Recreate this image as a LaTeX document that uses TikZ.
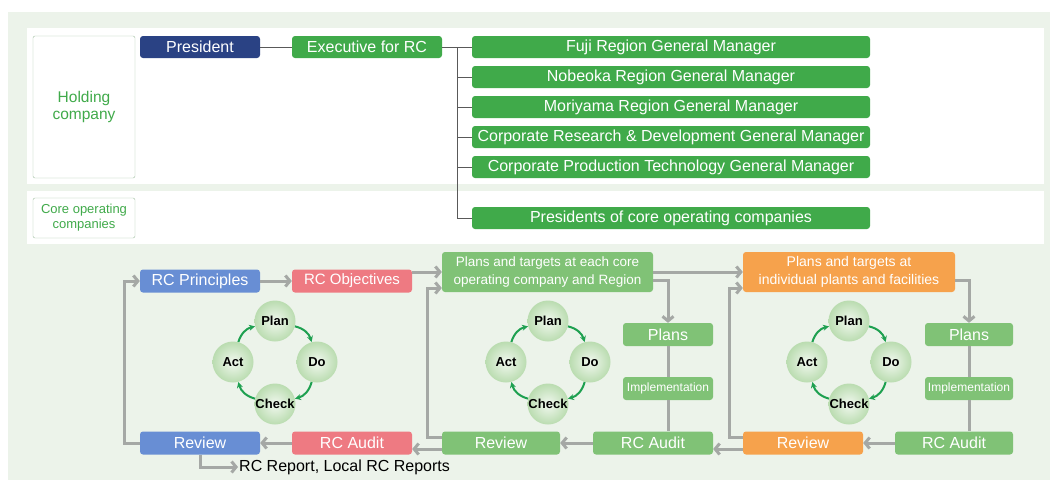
\documentclass[tikz,border=0pt]{standalone}
\usepackage{fontspec}
\setmainfont{Liberation Sans}
\usepackage{tikz}
\usetikzlibrary{arrows.meta}
\usepackage{xcolor}
\definecolor{ColBg}{RGB}{236,243,234}
\definecolor{ColNavy}{RGB}{42,66,132}
\definecolor{ColGreen}{RGB}{64,170,74}
\definecolor{ColLeaf}{RGB}{128,194,118}
\definecolor{ColBlue}{RGB}{104,142,212}
\definecolor{ColPink}{RGB}{238,122,130}
\definecolor{ColOrange}{RGB}{246,162,76}
\definecolor{ColLine}{RGB}{165,168,165}
\definecolor{ColBall}{RGB}{186,220,176}
\definecolor{ColArc}{RGB}{30,160,80}
\definecolor{ColFrame}{RGB}{160,192,160}
\newcommand{\FontPt}[2]{\fontsize{#1}{#2}\selectfont}
\tikzstyle{NodeOrg}=[rectangle,rounded corners=3pt,fill=ColGreen,text=white,minimum height=22pt,
inner sep=0pt,font=\FontPt{16}{18}]
\tikzstyle{RootOrg}=[NodeOrg,fill=ColNavy]
\tikzstyle{LabelOrg}=[rectangle,rounded corners=2pt,draw=ColFrame,fill=white,text=ColGreen,
align=center,inner sep=0pt,minimum width=102pt]
\tikzstyle{EdgeOrg}=[black!65,line width=0.9pt]
\tikzstyle{NodeFlow}=[NodeOrg,fill=ColLeaf,minimum height=23pt]
\tikzstyle{EdgeFlow}=[ColLine,line width=3pt]
\tikzstyle{ArcFlow}=[EdgeFlow,-{Straight Barb[length=4.5pt,width=11pt]}]
\tikzstyle{NodeCycle}=[circle,minimum size=41pt,inner sep=0pt,inner color=white!80!ColBall,outer color=ColBall,
font=\FontPt{13}{15}\bfseries]
\tikzstyle{ArcCycle}=[ColArc,line width=2pt,-{Stealth[length=6pt,width=6pt]},bend left=30]

\begin{document}
\begin{tikzpicture}[x=1pt,y=-1pt]
        \useasboundingbox(0,0)rectangle(1054,485);
        \fill[ColBg](8,12)rectangle(1050,480);
        \fill[white](27,28)rectangle(1044,184);
        \fill[white](27,191)rectangle(1044,244);
        \node[LabelOrg,minimum height=142pt,font=\FontPt{15.5}{17}](Hold)at(84,107){Holding\\company};
        \node[LabelOrg,minimum height=40pt,font=\FontPt{13}{15}](Core)at(84,218){Core operating\\companies};
        \node[RootOrg,minimum width=120pt](Pres)at(200,47){President};
        \node[NodeOrg,minimum width=150pt](Exec)at(367,47){Executive for RC};
        \node[NodeOrg,minimum width=398pt](Fuji)at(671,47){Fuji Region General Manager};
        \node[NodeOrg,minimum width=398pt](Nobe)at(671,77){Nobeoka Region General Manager};
        \node[NodeOrg,minimum width=398pt](Mori)at(671,107){Moriyama Region General Manager};
        \node[NodeOrg,minimum width=398pt](Rnd)at(671,137){Corporate Research \& Development General Manager};
        \node[NodeOrg,minimum width=398pt](Prod)at(671,167){Corporate Production Technology General Manager};
        \node[NodeOrg,minimum width=398pt](Heads)at(671,218){Presidents of core operating companies};
        \coordinate(Trunk)at(457,47);
        \draw[EdgeOrg](Pres)--(Exec);
        \draw[EdgeOrg](Exec)--(Fuji);
        \draw[EdgeOrg](Trunk)|-(Heads.west);
        \draw[EdgeOrg](Trunk|-Nobe)--(Nobe.west);
        \draw[EdgeOrg](Trunk|-Mori)--(Mori.west);
        \draw[EdgeOrg](Trunk|-Rnd)--(Rnd.west);
        \draw[EdgeOrg](Trunk|-Prod)--(Prod.west);
        \node[NodeFlow,fill=ColBlue,minimum width=120pt](Prin)at(200,281){RC Principles};
        \node[NodeFlow,fill=ColPink,minimum width=120pt,font=\FontPt{15}{17}](Obj)at(352,281){RC Objectives};
        \node[NodeFlow,minimum width=211pt,minimum height=40pt,font=\FontPt{13.5}{18},align=center](TgtCo)at(547.5,272){Plans and targets at each core\\operating company and Region};
        \node[NodeFlow,fill=ColOrange,minimum width=212pt,minimum height=40pt,font=\FontPt{14}{18},align=center](TgtPl)at(849,272){Plans and targets at\\individual plants and facilities};
        \node[NodeFlow,minimum width=90pt](PlanCo)at(668,334.5){Plans};
        \node[NodeFlow,minimum width=90pt,font=\FontPt{12}{14}](ImplCo)at(668,388.5){Implementation};
        \node[NodeFlow,minimum width=120pt](AudCo)at(653,443){RC Audit};
        \node[NodeFlow,minimum width=88pt](PlanPl)at(969,334.5){Plans};
        \node[NodeFlow,minimum width=88pt,font=\FontPt{12}{14}](ImplPl)at(969,388.5){Implementation};
        \node[NodeFlow,minimum width=118pt](AudPl)at(954,443){RC Audit};
        \node[NodeFlow,fill=ColBlue,minimum width=120pt](RevHq)at(200,443){Review};
        \node[NodeFlow,fill=ColPink,minimum width=120pt](AudHq)at(352,443){RC Audit};
        \node[NodeFlow,minimum width=118pt](RevCo)at(501,443){Review};
        \node[NodeFlow,fill=ColOrange,minimum width=120pt](RevPl)at(803,443){Review};
        \node[anchor=west,inner sep=1pt,font=\FontPt{16}{18}](Rep)at(238,467){RC Report, Local RC Reports};
        \draw[ArcFlow](RevHq.west)--++(-15,0)|-(Prin.west);
        \draw[ArcFlow](Prin)--(Obj);
        \draw[ArcFlow]([yshift=9pt]Obj.east)--(TgtCo.west);
        \draw[ArcFlow](AudHq)--(RevHq);
        \draw[ArcFlow](RevHq.south)|-(Rep.west);
        \draw[ArcFlow]([yshift=-6pt]RevCo.west)--([yshift=-6pt]AudHq.east);
        \draw[ArcFlow]([yshift=6pt]RevCo.west)--++(-14,0)|-([yshift=-16pt]TgtCo.west);
        \draw[ArcFlow](TgtCo)--(TgtPl);
        \draw[ArcFlow]([yshift=-8pt]TgtCo.east)-|(PlanCo.north);
        \draw[EdgeFlow](PlanCo)--(ImplCo);
        \draw[EdgeFlow](ImplCo)--(ImplCo|-AudCo.north);
        \draw[ArcFlow](AudCo)--(RevCo);
        \draw[ArcFlow]([yshift=-6pt]RevPl.west)--([yshift=-6pt]AudCo.east);
        \draw[ArcFlow]([yshift=6pt]RevPl.west)--++(-13,0)|-([yshift=-16pt]TgtPl.west);
        \draw[ArcFlow]([yshift=-8pt]TgtPl.east)-|(PlanPl.north);
        \draw[EdgeFlow](PlanPl)--(ImplPl);
        \draw[EdgeFlow](ImplPl)--(ImplPl|-AudPl.north);
        \draw[ArcFlow](AudPl)--(RevPl);
        \foreach \cx/\n in {275/Hq,548/Co,849/Pl}{
            \node[NodeCycle](Plan\n)at(\cx,321){Plan};
            \node[NodeCycle](Act\n)at(\cx-42,362){Act};
            \node[NodeCycle](Do\n)at(\cx+42,362){Do};
            \node[NodeCycle](Chk\n)at(\cx,404){Check};
            \draw[ArcCycle](Act\n.75)to(Plan\n.195);
            \draw[ArcCycle](Plan\n.-15)to(Do\n.105);
            \draw[ArcCycle](Do\n.-105)to(Chk\n.15);
            \draw[ArcCycle](Chk\n.165)to(Act\n.-75);
        }
    \end{tikzpicture}
\end{document}
